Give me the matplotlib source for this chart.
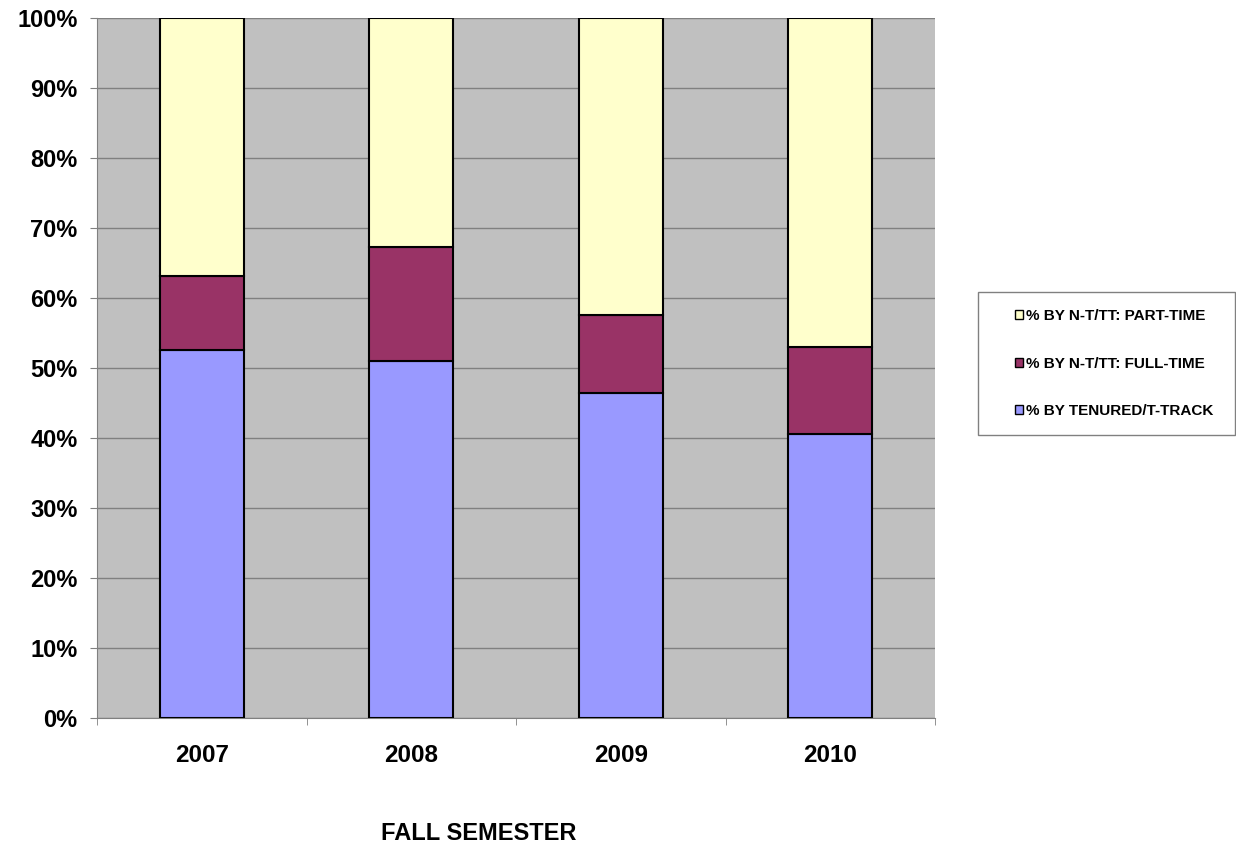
import matplotlib
matplotlib.use("Agg")
import matplotlib.pyplot as plt
import numpy as np
from matplotlib.patches import Patch, Rectangle

years = ["2007", "2008", "2009", "2010"]
tenured = [52.6, 51.0, 46.4, 40.6]
fulltime = [10.5, 16.3, 11.2, 12.4]
parttime = [36.9, 32.7, 42.4, 47.0]
labels = ["% BY TENURED/T-TRACK", "% BY N-T/TT: FULL-TIME", "% BY N-T/TT: PART-TIME"]
colors = ["#9999FF", "#993366", "#FFFFCC"]

plt.rcParams['font.family'] = ['Liberation Sans', 'DejaVu Sans']
plt.rcParams['font.weight'] = 'bold'

W, H = 1236, 846
fig = plt.figure(figsize=(W/100, H/100), dpi=100)
ax = fig.add_axes([97/W, 128/H, (935-97)/W, 700/H])
ax.set_facecolor("#C0C0C0")

x = np.arange(len(years))
series = [tenured, fulltime, parttime]
bottom = np.zeros(len(years))
for vals, c in zip(series, colors):
    ax.bar(x, vals, bottom=bottom, width=0.4, color=c, edgecolor="black", linewidth=1.5, zorder=3)
    bottom += np.array(vals)

ax.set_xlim(-0.5, len(years) - 0.5)
ax.set_ylim(0, 100)
ax.set_yticks(np.arange(0, 101, 10))
ax.set_yticklabels([f"{v}%" for v in range(0, 101, 10)], fontsize=17, fontweight='bold')
ax.yaxis.grid(True, color="#808080", linewidth=1, zorder=0)
ax.set_axisbelow(True)

ax.set_xticks(x)
ax.set_xticklabels(years, fontsize=17.5, fontweight='bold')
ax.tick_params(axis='x', length=0, pad=19)
ax.set_xticks(np.arange(-0.5, len(years), 1), minor=True)
ax.tick_params(axis='x', which='minor', length=5, color="#808080", direction='out')
ax.tick_params(axis='y', length=5, color="#808080", pad=9)

for s in ['top', 'right']:
    ax.spines[s].set_visible(False)
for s in ['left', 'bottom']:
    ax.spines[s].set_color("#808080")

fig.text(479/W, 1 - 833/H, "FALL SEMESTER", fontsize=17, fontweight='bold',
         ha='center', va='center')

# legend frame
fig.patches.append(Rectangle((978/W, 1 - 435/H), (1235-978)/W, (435-292)/H,
                             transform=fig.transFigure, facecolor="white",
                             edgecolor="#808080", linewidth=1, zorder=0))

handles = [Patch(facecolor=c, edgecolor="black", linewidth=1) for c in colors]
leg = fig.legend(handles[::-1], labels[::-1], loc='upper left',
                 bbox_to_anchor=(1015/W, 1 - 309/H),
                 prop={'weight': 'bold', 'size': 11},
                 handlelength=0.55, handleheight=0.55, handletextpad=0.15,
                 labelspacing=2.2, borderpad=0, borderaxespad=0,
                 frameon=False)

fig.savefig("out.png", dpi=100, facecolor="white")
